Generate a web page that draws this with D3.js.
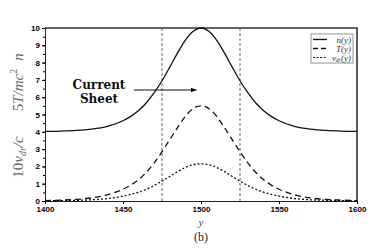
<!DOCTYPE html>
<html>
<head>
<meta charset="utf-8">
<script src="https://cdn.jsdelivr.net/npm/d3@7"></script>
<style>
  body { margin: 0; background: #fff; }
  svg { display: block; }
  .tick text { font-family: Arial, "Liberation Sans", sans-serif; font-weight: bold; font-size: 8px; }
</style>
</head>
<body>
<svg width="382" height="249"></svg>
<script>
// positions along y
const yPos = [1400, 1410, 1420, 1430, 1440, 1450, 1455, 1460, 1465, 1470, 1475, 1480, 1485, 1490, 1495, 1500,
  1505, 1510, 1515, 1520, 1525, 1530, 1535, 1540, 1545, 1550, 1560, 1570, 1580, 1590, 1600];
// density n(y)
const nVals = [4.02, 4.04, 4.08, 4.16, 4.32, 4.64, 4.89, 5.23, 5.68, 6.26, 6.95, 7.74, 8.56, 9.3, 9.81, 10,
  9.81, 9.3, 8.56, 7.74, 6.95, 6.26, 5.68, 5.23, 4.89, 4.64, 4.32, 4.16, 4.08, 4.04, 4.02];
// temperature 5T/mc^2
const tVals = [0.02, 0.05, 0.09, 0.18, 0.36, 0.68, 0.92, 1.24, 1.66, 2.2, 2.85, 3.55, 4.25, 4.9, 5.35, 5.5,
  5.35, 4.9, 4.25, 3.55, 2.85, 2.2, 1.66, 1.24, 0.92, 0.68, 0.36, 0.18, 0.09, 0.05, 0.02];
// drift velocity 10 v_dr/c
const vVals = [0.01, 0.02, 0.04, 0.07, 0.14, 0.28, 0.38, 0.51, 0.68, 0.9, 1.15, 1.42, 1.7, 1.94, 2.1, 2.15,
  2.1, 1.94, 1.7, 1.42, 1.15, 0.9, 0.68, 0.51, 0.38, 0.28, 0.14, 0.07, 0.04, 0.02, 0.01];
const sheetEdges = [1475, 1525];
const xTicks = [1400, 1450, 1500, 1550, 1600];
const yTicks = [0, 1, 2, 3, 4, 5, 6, 7, 8, 9, 10];

const svg = d3.select("svg");
const mLeft = 45, mRight = 357, mTop = 28, mBottom = 201;

const x = d3.scaleLinear().domain([1400, 1600]).range([mLeft, mRight]);
const y = d3.scaleLinear().domain([0, 10]).range([mBottom, mTop]);

// sheet boundaries
svg.selectAll(".edge")
  .data(sheetEdges)
  .enter()
  .append("line")
  .attr("class", "edge")
  .attr("x1", (d) => x(d)).attr("x2", (d) => x(d))
  .attr("y1", mTop).attr("y2", mBottom)
  .attr("stroke", "#666")
  .attr("stroke-width", 1)
  .attr("stroke-dasharray", "3,2");

// axes
svg.append("g")
  .attr("transform", `translate(0,${mBottom})`)
  .call(d3.axisBottom(x).tickValues(xTicks).tickSize(3).tickPadding(2).tickFormat(d3.format("d")))
  .call((g) => g.select(".domain").attr("stroke", "#222"));

svg.append("g")
  .attr("transform", `translate(${mLeft},0)`)
  .call(d3.axisLeft(y).tickValues(d3.range(0, 10.01, 0.5)).tickSize(2).tickFormat(""))
  .call((g) => g.select(".domain").remove());

svg.append("g")
  .attr("transform", `translate(${mLeft},0)`)
  .call(d3.axisLeft(y).tickValues(yTicks).tickSize(3).tickPadding(2))
  .call((g) => g.select(".domain").attr("stroke", "#222"));

// top and right frame
svg.append("path")
  .attr("d", `M${mLeft},${mTop}H${mRight}V${mBottom}`)
  .attr("fill", "none")
  .attr("stroke", "#333")
  .attr("stroke-width", 1.6);

// curves
const series = [
  { vals: nVals, dash: null },
  { vals: tVals, dash: "6,4" },
  { vals: vVals, dash: "2,2" }
];
const line = d3.line()
  .x((d) => x(d[0]))
  .y((d) => y(d[1]))
  .curve(d3.curveMonotoneX);

svg.selectAll(".curve")
  .data(series)
  .enter()
  .append("path")
  .attr("class", "curve")
  .attr("d", (s) => line(yPos.map((p, i) => [p, s.vals[i]])))
  .attr("fill", "none")
  .attr("stroke", "#111")
  .attr("stroke-width", 1.3)
  .attr("stroke-dasharray", (s) => s.dash);

// legend
const legend = svg.append("g").attr("transform", "translate(311,34)");
legend.append("rect")
  .attr("width", 42).attr("height", 29)
  .attr("fill", "#fff").attr("stroke", "#777").attr("stroke-width", 0.8);
const legendItems = [
  { label: "n(y)", dash: null, w: 1.3 },
  { label: "T(y)", dash: "5,3", w: 1.6 },
  { label: "v", sub: "dr", tail: "(y)", dash: "2,1.5", w: 1 }
];
legendItems.forEach((d, i) => {
  const ly = 5.5 + i * 9;
  legend.append("line")
    .attr("x1", 2).attr("x2", 16).attr("y1", ly).attr("y2", ly)
    .attr("stroke", "#111").attr("stroke-width", d.w)
    .attr("stroke-dasharray", d.dash);
  const t = legend.append("text")
    .attr("x", 40).attr("y", ly + 3)
    .attr("text-anchor", "end")
    .attr("font-family", "'Liberation Serif', serif")
    .attr("font-style", "italic")
    .attr("font-size", 9)
    .attr("fill", "#333");
  if (d.sub) {
    t.append("tspan").text(d.label);
    t.append("tspan").attr("font-size", 5.5).attr("dy", 1.5).text(d.sub);
    t.append("tspan").attr("dy", -1.5).text(d.tail);
  } else {
    t.text(d.label);
  }
});

// annotation
const ann = svg.append("text")
  .attr("text-anchor", "middle")
  .attr("font-family", "'DejaVu Serif', serif")
  .attr("font-weight", "bold")
  .attr("font-size", 12)
  .attr("fill", "#111");
ann.append("tspan").attr("x", 99).attr("y", 89).text("Current");
ann.append("tspan").attr("x", 99).attr("y", 103).text("Sheet");

svg.append("defs").append("marker")
  .attr("id", "arr")
  .attr("viewBox", "0 0 10 10")
  .attr("refX", 9).attr("refY", 5)
  .attr("markerWidth", 6).attr("markerHeight", 6)
  .attr("orient", "auto")
  .append("path")
  .attr("d", "M0,1L10,5L0,9Z")
  .attr("fill", "#111");

svg.append("line")
  .attr("x1", x(1457)).attr("x2", x(1497))
  .attr("y1", 90).attr("y2", 90)
  .attr("stroke", "#111").attr("stroke-width", 1)
  .attr("marker-end", "url(#arr)");

// axis titles
const ylab = svg.append("g")
  .attr("font-family", "'Liberation Serif', serif")
  .attr("font-style", "italic")
  .attr("font-size", 15)
  .attr("fill", "#666")
  .attr("text-anchor", "middle");
ylab.append("text").attr("transform", "translate(23,57) rotate(-90)").text("n");
const t5 = ylab.append("text").attr("transform", "translate(23,90) rotate(-90)");
t5.append("tspan").attr("font-style", "normal").text("5");
t5.append("tspan").text("T/mc");
t5.append("tspan").attr("font-style", "normal").attr("font-size", 10).attr("dy", -6).text("2");
const t10 = ylab.append("text").attr("transform", "translate(23,157) rotate(-90)");
t10.append("tspan").attr("font-style", "normal").text("10");
t10.append("tspan").text("v");
t10.append("tspan").attr("font-size", 10).attr("dy", 3).text("dr");
t10.append("tspan").attr("dy", -3).text("/c");

svg.append("text")
  .attr("x", x(1500)).attr("y", 226)
  .attr("text-anchor", "middle")
  .attr("font-family", "'Liberation Serif', serif")
  .attr("font-style", "italic")
  .attr("font-size", 11)
  .attr("fill", "#444")
  .text("y");

svg.append("text")
  .attr("x", x(1500)).attr("y", 241)
  .attr("text-anchor", "middle")
  .attr("font-family", "'Liberation Serif', serif")
  .attr("font-size", 12)
  .attr("fill", "#222")
  .text("(b)");
</script>
</body>
</html>
